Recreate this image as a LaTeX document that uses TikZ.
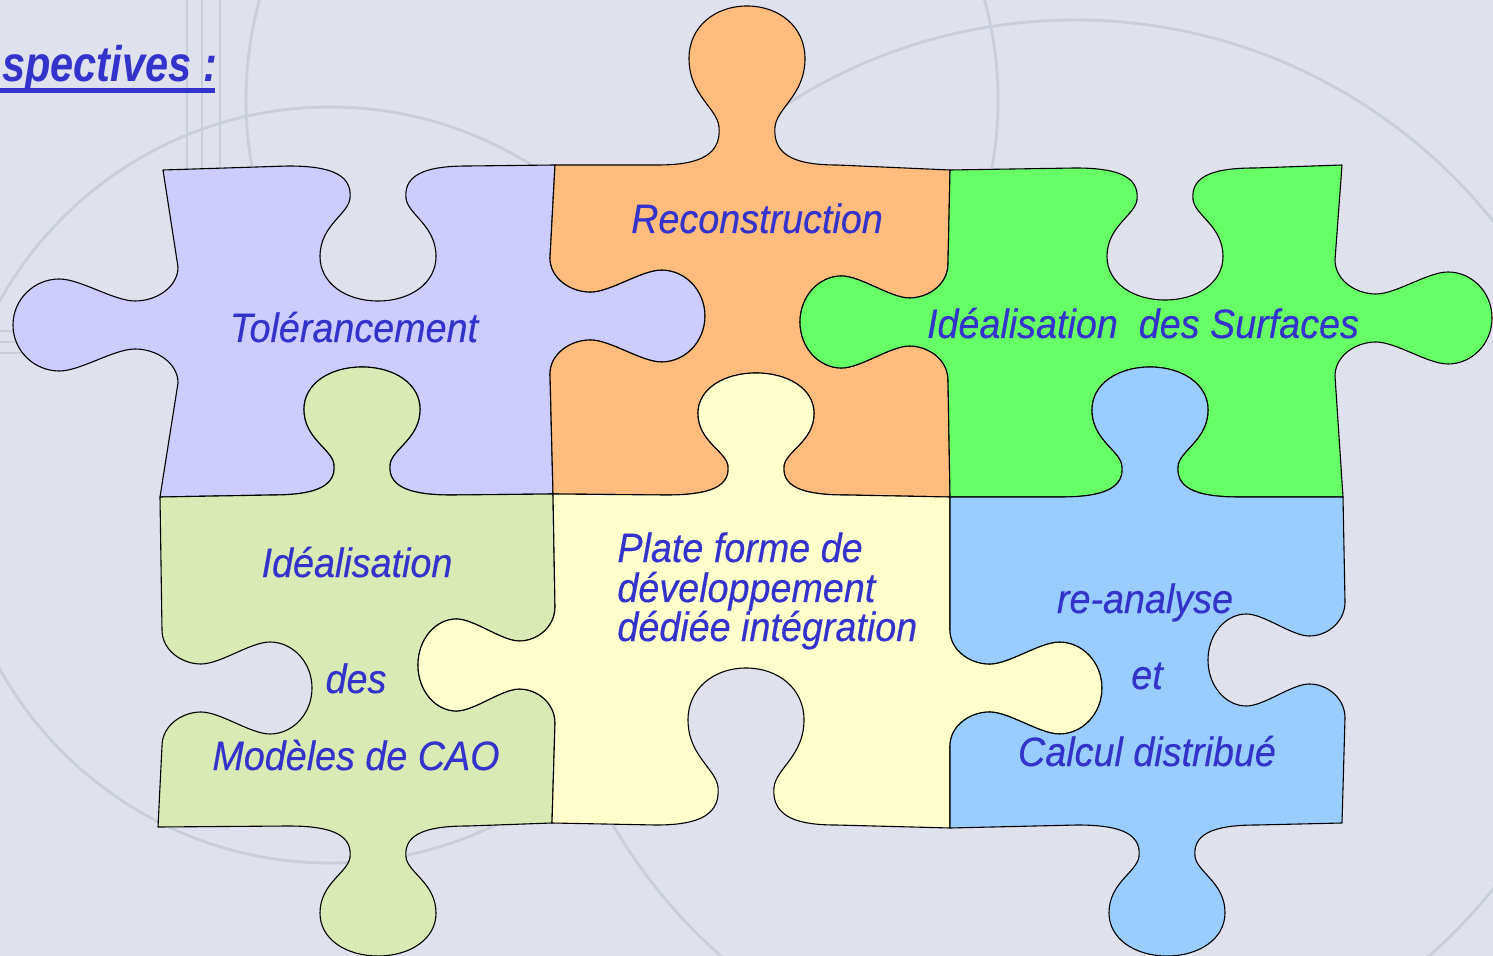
\documentclass[tikz,border=0pt]{standalone}
\usepackage{fontspec}
\usetikzlibrary{calc}
\newfontfamily\puzzlefont{Liberation Sans}[FakeStretch=0.92, FakeBold=0.35]
\newfontfamily\titlefont{Liberation Sans}[FakeStretch=0.83]

\definecolor{bgbase}{HTML}{DFE1ED}
\definecolor{bgline}{HTML}{C9CFDA}
\definecolor{txtblue}{HTML}{3333CC}
\definecolor{lavenderfill}{HTML}{CCCCFF}
\definecolor{apricotfill}{HTML}{FFBC7C}
\definecolor{greenfill}{HTML}{66FF66}
\definecolor{sagefill}{HTML}{D9EAB4}
\definecolor{creamfill}{HTML}{FFFFCC}
\definecolor{skyfill}{HTML}{99CCFF}

% knob on a horizontal edge: #1/#2 centre, #3 side (+1 down, -1 up), #4 travel (+1 right, -1 left), #5 depth
\newcommand\hknob[5]{%
  -- ({#1-(#4)*90},#2)
  .. controls ({#1-(#4)*55},#2) and ({#1-(#4)*25},{#2+(#3)*(#5)*0.04}) .. ({#1-(#4)*28},{#2+(#3)*(#5)*0.24})
  .. controls ({#1-(#4)*30},{#2+(#3)*(#5)*0.36}) and ({#1-(#4)*58},{#2+(#3)*(#5)*0.44}) .. ({#1-(#4)*58},{#2+(#3)*(#5)*0.67})
  .. controls ({#1-(#4)*58},{#2+(#3)*(#5)*0.87}) and ({#1-(#4)*32},{#2+(#3)*(#5)}) .. ({#1},{#2+(#3)*(#5)})
  .. controls ({#1+(#4)*32},{#2+(#3)*(#5)}) and ({#1+(#4)*58},{#2+(#3)*(#5)*0.87}) .. ({#1+(#4)*58},{#2+(#3)*(#5)*0.67})
  .. controls ({#1+(#4)*58},{#2+(#3)*(#5)*0.44}) and ({#1+(#4)*30},{#2+(#3)*(#5)*0.36}) .. ({#1+(#4)*28},{#2+(#3)*(#5)*0.24})
  .. controls ({#1+(#4)*25},{#2+(#3)*(#5)*0.04}) and ({#1+(#4)*55},#2) .. ({#1+(#4)*90},#2)}

% knob on a vertical edge: #1/#2 centre, #3 side (+1 right, -1 left), #4 travel (+1 down, -1 up), #5 depth
\newcommand\vknob[5]{%
  -- (#1,{#2-(#4)*58})
  .. controls (#1,{#2-(#4)*38}) and ({#1+(#3)*(#5)*0.13},{#2-(#4)*24}) .. ({#1+(#3)*(#5)*0.26},{#2-(#4)*24})
  .. controls ({#1+(#3)*(#5)*0.39},{#2-(#4)*24}) and ({#1+(#3)*(#5)*0.59},{#2-(#4)*46}) .. ({#1+(#3)*(#5)*0.72},{#2-(#4)*46})
  .. controls ({#1+(#3)*(#5)*0.87},{#2-(#4)*46}) and ({#1+(#3)*(#5)},{#2-(#4)*26}) .. ({#1+(#3)*(#5)},#2)
  .. controls ({#1+(#3)*(#5)},{#2+(#4)*26}) and ({#1+(#3)*(#5)*0.87},{#2+(#4)*46}) .. ({#1+(#3)*(#5)*0.72},{#2+(#4)*46})
  .. controls ({#1+(#3)*(#5)*0.59},{#2+(#4)*46}) and ({#1+(#3)*(#5)*0.39},{#2+(#4)*24}) .. ({#1+(#3)*(#5)*0.26},{#2+(#4)*24})
  .. controls ({#1+(#3)*(#5)*0.13},{#2+(#4)*24}) and (#1,{#2+(#4)*38}) .. (#1,{#2+(#4)*58})}

\begin{document}
\begin{tikzpicture}[x=0.5pt, y=-0.5pt,
    piece/.style={draw=black, line width=0.55pt, line join=round},
    txt/.style={text=txtblue, inner sep=0pt, font=\puzzlefont\itshape\fontsize{20.5}{22}\selectfont},
    titletxt/.style={text=txtblue, inner sep=0pt, font=\titlefont\bfseries\itshape\fontsize{25}{27}\selectfont}]
  \useasboundingbox (0,0) rectangle (1493,956);
  \clip (0,0) rectangle (1493,956);
  \fill[bgbase] (0,0) rectangle (1493,956);
  % faint circles of the backdrop
  \begin{scope}[bgline, line width=1.4pt]
    \draw (330,485) circle [radius=378];
    \draw (1075,555) circle [radius=535];
    \draw (622,100) circle [radius=376];
    \foreach \X in {187,202,220}
      \draw (\X,0) -- (\X,300);
    \foreach \Y in {331,342,353}
      \draw (0,\Y) -- (60,\Y);
  \end{scope}

  % grid corners
  \coordinate (c00) at (163,170);  \coordinate (c10) at (555,165);
  \coordinate (c20) at (950,170);  \coordinate (c30) at (1342,165);
  \coordinate (c01) at (160,497);  \coordinate (c11) at (553,494);
  \coordinate (c21) at (950,497);  \coordinate (c31) at (1343,497);
  \coordinate (c02) at (158,827);  \coordinate (c12) at (552,823);
  \coordinate (c22) at (950,828);  \coordinate (c32) at (1342,823);

  % top row
  \filldraw[piece, fill=lavenderfill] (c00) \hknob{378}{166}{1}{1}{135} -- (c10) \vknob{550}{316}{1}{1}{155}
    -- (c11) \hknob{362}{495}{-1}{-1}{128} -- (c01) \vknob{178}{325}{-1}{-1}{165} -- cycle;
  \filldraw[piece, fill=apricotfill] (c10) \hknob{747}{165}{-1}{1}{159} -- (c20) \vknob{948}{322}{-1}{1}{148}
    -- (c21) \hknob{756}{495}{-1}{-1}{122} -- (c11) \vknob{550}{316}{1}{-1}{155} -- cycle;
  \filldraw[piece, fill=greenfill] (c20) \hknob{1165}{168}{1}{1}{132} -- (c30) \vknob{1335}{318}{1}{1}{157}
    -- (c31) \hknob{1150}{497}{-1}{-1}{130} -- (c21) \vknob{948}{322}{-1}{-1}{148} -- cycle;
  % bottom row
  \filldraw[piece, fill=sagefill] (c01) \hknob{362}{495}{-1}{1}{128} -- (c11) \vknob{555}{665}{-1}{1}{137}
    -- (c12) \hknob{378}{826}{1}{-1}{130} -- (c02) \vknob{162}{688}{1}{-1}{150} -- cycle;
  \filldraw[piece, fill=creamfill] (c11) \hknob{756}{495}{-1}{1}{122} -- (c21) \vknob{950}{688}{1}{1}{152}
    -- (c22) \hknob{746}{825}{-1}{-1}{157} -- (c12) \vknob{555}{665}{-1}{-1}{137} -- cycle;
  \filldraw[piece, fill=skyfill] (c21) \hknob{1150}{497}{-1}{1}{130} -- (c31) \vknob{1345}{660}{-1}{1}{137}
    -- (c32) \hknob{1167}{825}{1}{-1}{131} -- (c22) \vknob{950}{688}{1}{-1}{152} -- cycle;

  % labels
  \foreach \N/\X/\Y/\T in {tol/354/342/Tolérancement, rec/757/233/Reconstruction,
      surf/1143/338/{Idéalisation\ \ des Surfaces}, ideal/357/577/Idéalisation, des/356/693/des,
      cao/356/770/Modèles de CAO, reana/1145/613/re-analyse, et/1147/689/et, calc/1147/766/Calcul distribué}
    \node[txt, anchor=base] (\N) at (\X,\Y) {\T};
  \foreach \N/\Y/\T in {plat1/562/Plate forme de, plat2/602/développement, plat3/641/dédiée intégration}
    \node[txt, anchor=base west] (\N) at (617,\Y) {\T};

  \node[titletxt, anchor=base west] (title) at (2,82) {spectives :};
  \draw[txtblue, line width=2.5pt] ($(title.base west)+(-2,9)$) -- ($(title.base east)+(-2,9)$);
\end{tikzpicture}
\end{document}
